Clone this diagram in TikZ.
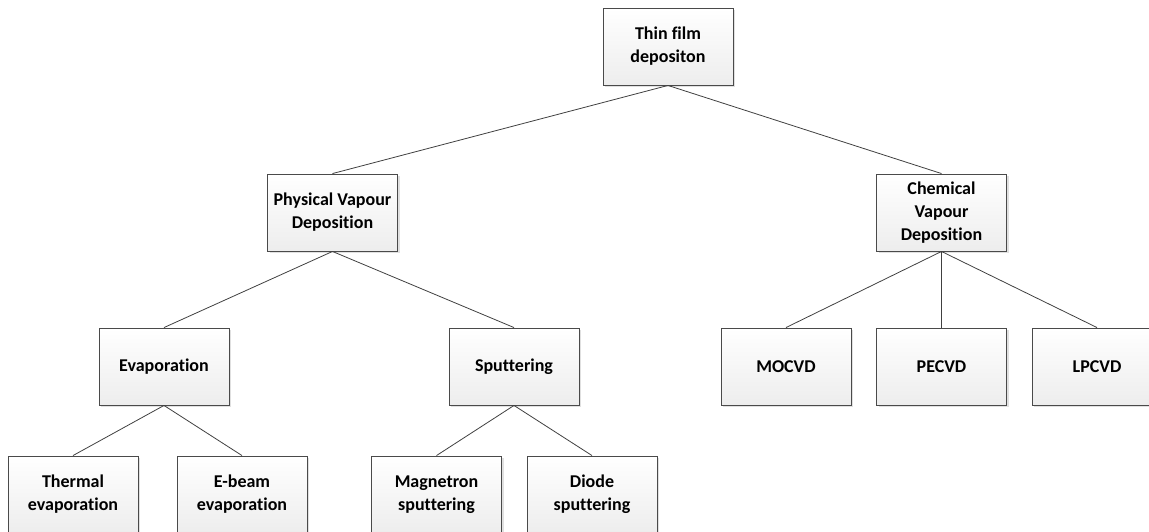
\documentclass[tikz,border=0pt]{standalone}
\usepackage{fontspec}
\setmainfont{Carlito}[Ligatures={NoCommon}]
\usetikzlibrary{shadows}
\definecolor{boxline}{HTML}{4A4A4A}
\definecolor{boxbot}{HTML}{EDEDED}
\definecolor{linkcol}{HTML}{404040}
\begin{document}
\begin{tikzpicture}[x=1pt,y=-1pt,
  box/.style={draw=boxline, line width=0.9pt, top color=white, bottom color=boxbot,
    minimum width=130pt, minimum height=77pt, inner sep=2pt, align=center,
    font=\fontsize{18}{23}\selectfont\bfseries,
    drop shadow={shadow xshift=2pt, shadow yshift=-2pt, fill=black, opacity=0.12}},
  link/.style={draw=linkcol, line width=0.8pt}]
\useasboundingbox (0,0) rectangle (1149,531);
\clip (0,0) rectangle (1149,531);
\node[box] (thin) at (668,46.5) {Thin film\\ depositon};
\node[box] (pvd) at (332.5,212.5) {Physical Vapour\\ Deposition};
\node[box] (cvd) at (941.5,212.5) {Chemical\\ Vapour\\ Deposition};
\node[box] (evap) at (164,366.5) {Evaporation};
\node[box] (sput) at (514,366.5) {Sputtering};
\node[box] (mocvd) at (786,366.5) {MOCVD};
\node[box] (pecvd) at (941.5,366.5) {PECVD};
\node[box] (lpcvd) at (1097,366.5) {LPCVD};
\node[box] (therm) at (73,494.5) {Thermal\\ evaporation};
\node[box] (ebeam) at (242,494.5) {E-beam\\ evaporation};
\node[box] (magn) at (436.5,494.5) {Magnetron\\ sputtering};
\node[box] (diode) at (592,494.5) {Diode\\ sputtering};
\draw[link] (thin.south) -- (pvd.north);
\draw[link] (thin.south) -- (cvd.north);
\draw[link] (pvd.south) -- (evap.north);
\draw[link] (pvd.south) -- (sput.north);
\draw[link] (cvd.south) -- (mocvd.north);
\draw[link] (cvd.south) -- (pecvd.north);
\draw[link] (cvd.south) -- (lpcvd.north);
\draw[link] (evap.south) -- (therm.north);
\draw[link] (evap.south) -- (ebeam.north);
\draw[link] (sput.south) -- (magn.north);
\draw[link] (sput.south) -- (diode.north);
\end{tikzpicture}
\end{document}
